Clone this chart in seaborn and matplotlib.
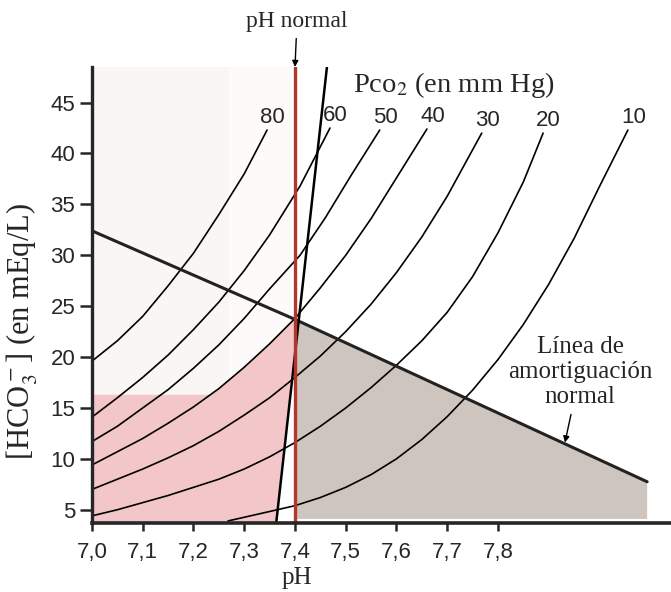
import pandas as pd
import matplotlib
matplotlib.use("Agg")
import matplotlib.pyplot as plt
import seaborn as sns

sns.set_style("ticks")
plt.rcParams["font.family"] = ["Liberation Sans", "DejaVu Sans"]
plt.rcParams["mathtext.fontset"] = "stix"
SERIF = ["Liberation Serif", "DejaVu Serif"]

# Pco2 isobars (mm Hg)
pco2_levels = [80, 60, 50, 40, 30, 20, 10]

ph_80 = [7.0, 7.05, 7.1, 7.15, 7.2, 7.25, 7.3, 7.345]
hco3_80 = [19.6, 21.6, 24.0, 27.0, 30.2, 34.0, 38.0, 42.3]

ph_60 = [7.0, 7.05, 7.1, 7.15, 7.2, 7.25, 7.3, 7.35, 7.41, 7.469]
hco3_60 = [14.1, 16.0, 18.0, 20.2, 22.7, 25.4, 28.5, 32.0, 36.8, 42.5]

ph_50 = [7.0, 7.05, 7.1, 7.15, 7.2, 7.25, 7.3, 7.35, 7.41, 7.46, 7.51, 7.567]
hco3_50 = [11.7, 13.2, 15.0, 16.8, 18.9, 21.2, 23.8, 26.7, 30.0, 33.7, 37.8, 42.3]

ph_40 = [7.0, 7.05, 7.1, 7.15, 7.2, 7.25, 7.3, 7.35, 7.4, 7.45, 7.5, 7.55, 7.6, 7.66]
hco3_40 = [9.4, 10.7, 12.0, 13.5, 15.1, 16.9, 19.0, 21.3, 23.8, 26.8, 30.0, 33.6, 37.6, 42.4]

ph_30 = [7.0, 7.05, 7.1, 7.15, 7.2, 7.25, 7.3, 7.35, 7.4, 7.45, 7.5, 7.55, 7.6, 7.65, 7.7, 7.768]
hco3_30 = [7.0, 8.0, 9.0, 10.1, 11.3, 12.7, 14.3, 16.0, 18.0, 20.1, 22.5, 25.2, 28.3, 31.8, 35.8, 42.0]

ph_20 = [7.0, 7.05, 7.1, 7.15, 7.2, 7.25, 7.3, 7.35, 7.4, 7.45, 7.5, 7.55, 7.6, 7.65, 7.7, 7.75, 7.8, 7.85, 7.889]
hco3_20 = [4.4, 5.0, 5.7, 6.4, 7.2, 8.0, 9.0, 10.2, 11.6, 13.2, 15.0, 17.0, 19.2, 21.6, 24.4, 27.9, 32.2, 37.2, 42.0]

ph_10 = [7.268, 7.33, 7.4, 7.45, 7.5, 7.55, 7.6, 7.65, 7.7, 7.75, 7.8, 7.85, 7.9, 7.95, 8.0, 8.056]
hco3_10 = [3.9, 4.6, 5.4, 6.2, 7.2, 8.45, 10.0, 11.9, 14.15, 16.75, 19.75, 23.2, 27.15, 31.65, 36.75, 42.3]

curve_ph = [ph_80, ph_60, ph_50, ph_40, ph_30, ph_20, ph_10]
curve_hco3 = [hco3_80, hco3_60, hco3_50, hco3_40, hco3_30, hco3_20, hco3_10]

# normal buffer line
buffer_ph = [7.0, 7.4, 8.094]
buffer_hco3 = [32.4, 23.7, 7.75]

# steep black line near pH 7.4
steep_ph = [7.363, 7.463]
steep_hco3 = [3.7, 48.5]

normal_ph = 7.4

# shaded zones
pink_ph = [7.0, 7.0, 7.233, 7.25, 7.3, 7.35, 7.4, 7.4, 7.363]
pink_hco3 = [3.7, 16.3, 16.3, 16.9, 19.0, 21.3, 23.8, 20.4, 3.7]
grey_ph = [7.4, 7.4, 8.094, 8.094]
grey_hco3 = [4.1, 23.7, 7.75, 4.1]

xtick_vals = [7.0, 7.1, 7.2, 7.3, 7.4, 7.5, 7.6, 7.7, 7.8]
xtick_labels = ["7,0", "7,1", "7,2", "7,3", "7,4", "7,5", "7,6", "7,7", "7,8"]
ytick_vals = [5, 10, 15, 20, 25, 30, 35, 40, 45]

frames = []
for p, ph, hc in zip(pco2_levels, curve_ph, curve_hco3):
    frames.append(pd.DataFrame({"ph": ph, "hco3": hc, "pco2": p}))
curves = pd.concat(frames, ignore_index=True)

fig = plt.figure(figsize=(6.71, 5.92), dpi=100)
ax = fig.add_axes([0.1371, 0.1166, 0.8629, 0.7703])
ax.set_xlim(7.0, 8.141)
ax.set_ylim(3.7, 48.5)

# faint scan tint in the upper left
ax.fill_between([7.0, 7.27], 16.3, 48.5, color="#faf6f4", lw=0, zorder=0)
ax.fill_between([7.27, 7.39], 16.3, 48.5, color="#fdfbfa", lw=0, zorder=0)
ax.fill(pink_ph, pink_hco3, color="#f3c7c9", lw=0, zorder=0)
ax.fill(grey_ph, grey_hco3, color="#cfc5bf", lw=0, zorder=0)

sns.lineplot(data=curves, x="ph", y="hco3", units="pco2", estimator=None,
             sort=False, color="black", lw=1.2, legend=False, ax=ax)
sns.lineplot(x=buffer_ph, y=buffer_hco3, sort=False, color="#222222",
             lw=2.2, ax=ax)
ax.plot(steep_ph, steep_hco3, color="black", lw=1.8)
ax.axvline(normal_ph, color="#b3362c", lw=2.4, ymax=0.999)

for p, ph, hc in zip(pco2_levels, curve_ph, curve_hco3):
    ax.annotate(str(p), xy=(ph[-1], hc[-1]), xytext=(4, 5),
                textcoords="offset points", ha="center", va="baseline",
                fontsize=16)

ax.text(0.451, 0.96, "Pco$_2$ (en mm Hg)", transform=ax.transAxes,
        ha="left", va="center", fontsize=20.5, family=SERIF)

ax.annotate("pH normal", xy=(normal_ph, 48.5),
            xytext=(297 / 671, 1 - 22 / 592), textcoords="figure fraction",
            ha="center", va="center", fontsize=17, family=SERIF,
            arrowprops=dict(arrowstyle="-|>", color="black", lw=1,
                            mutation_scale=9, shrinkA=2, shrinkB=0))

ax.annotate("Línea de\namortiguación\nnormal", xy=(7.932, 11.6),
            xytext=(0.843, 0.331), textcoords="axes fraction",
            ha="center", va="center", multialignment="center",
            fontsize=18, family=SERIF, linespacing=1.2,
            arrowprops=dict(arrowstyle="-|>", color="black", lw=1,
                            mutation_scale=9, shrinkA=2, shrinkB=0))

ax.set_xticks(xtick_vals)
ax.set_xticklabels(xtick_labels)
ax.set_yticks(ytick_vals)
ax.tick_params(axis="x", length=6, width=1.8, pad=8, labelsize=16)
ax.tick_params(axis="y", length=9, width=1.8, pad=3, labelsize=16)

ax.set_xlabel("pH", fontsize=18, family=SERIF, va="center")
ax.xaxis.set_label_coords(0.354, -0.121)
ax.set_ylabel("[HCO$_3^-$] (en mEq/L)", fontsize=22, family=SERIF, va="center")
ax.yaxis.set_label_coords(-0.121, 0.42)

sns.despine(ax=ax)
ax.spines["left"].set_linewidth(2.4)
ax.spines["bottom"].set_linewidth(2.6)

fig.savefig("out.png", dpi=100)
